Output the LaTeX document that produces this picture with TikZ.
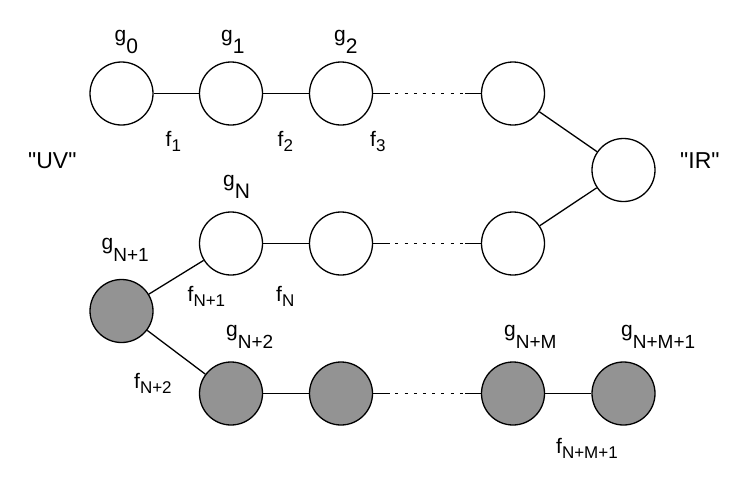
\documentclass[tikz,border=0pt]{standalone}
\usepackage{fontspec}
\setmainfont{Liberation Sans}
\newfontfamily\plainfont{Liberation Sans}[Ligatures=ResetAll]
\newcommand{\glab}[2]{{\fontsize{21}{21}\selectfont g}\raisebox{-12.4pt}{\fontsize{#1}{#1}\selectfont #2}}
\newcommand{\flab}[1]{{\fontsize{21}{21}\selectfont f}\raisebox{-5pt}{\fontsize{17}{17}\selectfont #1}}
\definecolor{nodegray}{RGB}{147,147,147}
\tikzset{
  vert/.style={circle, draw=black, line width=1.3pt, minimum size=63pt, inner sep=0pt, fill=white},
  gvert/.style={vert, fill=nodegray},
  edge/.style={line width=1.3pt},
  dotline/.style={line width=1.3pt, dash pattern=on 17pt off 5.2pt on 3pt off 6.2pt on 3pt off 6.2pt on 3pt off 6.2pt on 3pt off 6.2pt on 3pt off 6.2pt on 3pt off 6.2pt on 3pt off 6.2pt on 3pt off 2.4pt on 30pt},
  lab/.style={anchor=base west, inner sep=0pt},
  big/.style={anchor=base west, inner sep=0pt, font=\plainfont\fontsize{23}{23}\selectfont},
}
\begin{document}
\begin{tikzpicture}[x=1pt, y=-1pt]
\useasboundingbox (0,0) rectangle (747,477);
% top row
\node[vert] (a0) at (121.5,93.5) {};
\node[vert] (a1) at (231,93.5) {};
\node[vert] (a2) at (341,93.5) {};
\node[vert] (a3) at (513,93.5) {};
\node[vert] (ir) at (623.5,170) {};
% middle row
\node[vert] (b3) at (513,243.5) {};
\node[vert] (b2) at (341,243.5) {};
\node[vert] (bN) at (231,243.5) {};
\node[gvert] (c1) at (121.5,311) {};
% bottom row
\node[gvert] (d2) at (231,393.5) {};
\node[gvert] (d3) at (341,393.5) {};
\node[gvert] (d4) at (513,393.5) {};
\node[gvert] (d5) at (623.5,393.5) {};
% edges
\draw[edge] (a0) -- (a1);
\draw[edge] (a1) -- (a2);
\draw[dotline] (a2) -- (a3);
\draw[edge] (a3) -- (ir);
\draw[edge] (b3) -- (ir);
\draw[dotline] (b2) -- (b3);
\draw[edge] (bN) -- (b2);
\draw[edge] (c1) -- (bN);
\draw[edge] (c1) -- (d2);
\draw[edge] (d2) -- (d3);
\draw[dotline] (d3) -- (d4);
\draw[edge] (d4) -- (d5);
% labels
\node[lab] (lg0) at (114.5,41) {\glab{21}{0}};
\node[lab] (lg1) at (221,41) {\glab{21}{1}};
\node[lab] (lg2) at (334,41) {\glab{21}{2}};
\node[lab] (lf1) at (165.5,146) {\flab{1}};
\node[lab] (lf2) at (277.5,146) {\flab{2}};
\node[lab] (lf3) at (370,146) {\flab{3}};
\node[big] (uv) at (28,168) {"UV"};
\node[big] (irl) at (680,168) {"IR"};
\node[lab] (lgN) at (223,186) {\glab{21}{N}};
\node[lab] (lgN1) at (101.5,249) {\glab{19}{N+1}};
\node[lab] (lfN1) at (187.5,301) {\flab{N+1}};
\node[lab] (lfN) at (276,301) {\flab{N}};
\node[lab] (lgN2) at (226,336) {\glab{19}{N+2}};
\node[lab] (lfN2) at (134,388.5) {\flab{N+2}};
\node[lab] (lgNM) at (504,336) {\glab{19}{N+M}};
\node[lab] (lgNM1) at (621,336) {\glab{19}{N+M+1}};
\node[lab] (lfNM1) at (556,453) {\flab{N+M+1}};
\end{tikzpicture}
\end{document}
